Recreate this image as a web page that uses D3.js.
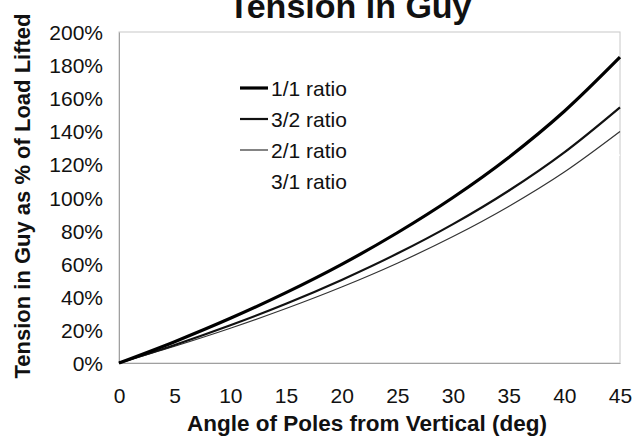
<!DOCTYPE html>
<html><head><meta charset="utf-8">
<script src="https://cdn.jsdelivr.net/npm/d3@7"></script>
<style>
html,body{margin:0;padding:0;background:#fff;}
svg{display:block;font-family:Arial,"Liberation Sans",sans-serif;}
</style></head>
<body>
<svg id="chart" width="635" height="438"></svg>
<script>
const angles = [0, 5, 10, 15, 20, 25, 30, 35, 40, 45];
const ratio11 = [0, 12.9, 27.0, 42.5, 59.6, 78.7, 100.0, 124.2, 152.1, 184.8];
const ratio32 = [0, 10.9, 22.8, 35.8, 50.2, 66.1, 83.9, 104.1, 127.3, 154.5];
const ratio21 = [0, 10.1, 21.0, 32.9, 45.9, 60.3, 76.4, 94.6, 115.4, 139.9];
const ratio31 = [0, 9.5, 19.5, 30.4, 42.1, 55.0, 69.4, 85.6, 104.1, 125.8];
const seriesNames = ["1/1 ratio", "3/2 ratio", "2/1 ratio", "3/1 ratio"];
const xTicks = [0, 5, 10, 15, 20, 25, 30, 35, 40, 45];
const yTicks = [0, 20, 40, 60, 80, 100, 120, 140, 160, 180, 200];
const titleText = "Tension in Guy";
const xTitle = "Angle of Poles from Vertical (deg)";
const yTitle = "Tension in Guy as % of Load Lifted";

const series = [
  {name: seriesNames[0], values: ratio11, color: "#000", width: 3.2},
  {name: seriesNames[1], values: ratio32, color: "#111", width: 2.2},
  {name: seriesNames[2], values: ratio21, color: "#333", width: 1.2},
  {name: seriesNames[3], values: ratio31, color: "#fff", width: 1.2}
];

const svg = d3.select("#chart");
const x = d3.scaleLinear().domain([0, 45]).range([119, 620]);
const y = d3.scaleLinear().domain([0, 200]).range([363, 32]);

// plot frame
svg.append("rect").attr("x", x(0)).attr("y", y(200))
  .attr("width", x(45) - x(0)).attr("height", y(0) - y(200))
  .attr("fill", "none").attr("stroke", "#c8c8c8").attr("stroke-width", 1);

// axes
const xAxis = d3.axisBottom(x).tickValues(xTicks).tickSize(0).tickPadding(0);
const gx = svg.append("g").attr("transform", `translate(0,${y(0)})`).call(xAxis);
gx.select(".domain").attr("stroke", "#a0a0a0");
gx.selectAll("text").attr("font-size", 21).attr("fill", "#111")
  .attr("font-family", "Arial, 'Liberation Sans', sans-serif").attr("dy", null).attr("y", 40);

const yAxis = d3.axisLeft(y).tickValues(yTicks).tickSize(0).tickPadding(16)
  .tickFormat(d => d + "%");
const gy = svg.append("g").attr("transform", `translate(${x(0)},0)`).call(yAxis);
gy.select(".domain").attr("stroke", "#a0a0a0");
gy.selectAll("text").attr("font-size", 21).attr("fill", "#111")
  .attr("font-family", "Arial, 'Liberation Sans', sans-serif").attr("dy", "0.36em");

// lines
const line = d3.line().x((d, i) => x(angles[i])).y(d => y(d)).curve(d3.curveMonotoneX);
[...series].reverse().forEach(s => {
  svg.append("path").datum(s.values).attr("d", line)
    .attr("fill", "none").attr("stroke", s.color).attr("stroke-width", s.width)
    .attr("stroke-linejoin", "round");
});

// legend
const leg = svg.append("g");
series.forEach((s, i) => {
  const ly = 88 + i * 31;
  leg.append("line").attr("x1", 240).attr("x2", 268).attr("y1", ly).attr("y2", ly)
    .attr("stroke", s.color).attr("stroke-width", s.width);
  leg.append("text").attr("x", 271).attr("y", ly).attr("dy", "0.36em")
    .attr("font-size", 21).attr("fill", "#111").text(s.name);
});

// titles
svg.append("text").attr("x", 350).attr("y", 18).attr("text-anchor", "middle")
  .attr("font-size", 34).attr("font-weight", "bold").attr("fill", "#111").text(titleText);
svg.append("text").attr("x", 367).attr("y", 431).attr("text-anchor", "middle")
  .attr("font-size", 22.5).attr("font-weight", "bold").attr("fill", "#111").text(xTitle);
svg.append("text").attr("transform", "translate(30,196) rotate(-90)").attr("text-anchor", "middle")
  .attr("font-size", 22).attr("font-weight", "bold").attr("fill", "#111").text(yTitle);
</script>
</body></html>
